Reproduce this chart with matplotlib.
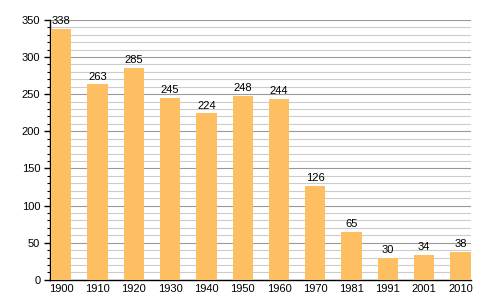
import matplotlib
matplotlib.use('Agg')
import matplotlib.pyplot as plt
import numpy as np

plt.rcParams['font.family'] = ['Liberation Sans', 'DejaVu Sans']

years = ['1900', '1910', '1920', '1930', '1940', '1950', '1960', '1970', '1981', '1991', '2001', '2010']
population = [338, 263, 285, 245, 224, 248, 244, 126, 65, 30, 34, 38]

fig = plt.figure(figsize=(5, 3), dpi=100)
ax = fig.add_axes([0.10, 0.067, 0.842, 0.867])

x = np.arange(len(years))
width = 0.56
rects = ax.bar(x, population, width=width, color='#fdbf62', zorder=3)

ax.set_xlim(-width / 2 - 0.03, len(years) - 1 + width / 2 + 0.01)
ax.set_ylim(0, 350)
ax.set_yticks(range(0, 351, 50))
ax.set_yticks(range(0, 351, 10), minor=True)
ax.grid(axis='y', which='major', color='#999999', linewidth=0.8, zorder=0)
ax.grid(axis='y', which='minor', color='#cccccc', linewidth=0.8, zorder=0)
ax.set_xticks(x)
ax.set_xticklabels(years)
ax.tick_params(axis='x', length=0, labelsize=8, pad=3)
ax.tick_params(axis='y', which='major', length=4, width=1, labelsize=8, direction='out', pad=3)
ax.tick_params(axis='y', which='minor', length=2.5, width=0.8, direction='out')

for side in ['top', 'right']:
    ax.spines[side].set_visible(False)
ax.spines['left'].set_linewidth(1)
ax.spines['bottom'].set_linewidth(1)

for rect in rects:
    height = rect.get_height()
    ax.annotate('{}'.format(height),
                xy=(rect.get_x() + rect.get_width() / 2, height),
                xytext=(0, 2),
                textcoords="offset points",
                ha='center', va='bottom', fontsize=8)

fig.savefig('out.png')
